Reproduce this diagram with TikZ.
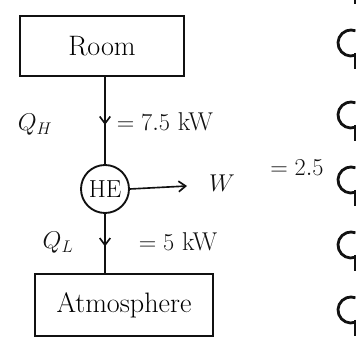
\documentclass[tikz,border=0pt]{standalone}
\usepackage{amsmath}
\usepackage{tikz}
\usetikzlibrary{arrows.meta,positioning,decorations.markings}
\definecolor{inkdark}{HTML}{111111}
\tikzset{
  heatbox/.style={draw=inkdark,line width=1.6pt,inner sep=2pt,font=\fontsize{24}{26}\selectfont},
  engine/.style={circle,draw=inkdark,line width=1.6pt,minimum size=1.44cm,inner sep=0pt,font=\fontsize{21}{23}\selectfont},
  heatflow/.style={draw=inkdark,line width=1.4pt,postaction={decorate},
    decoration={markings,mark=at position 0.55 with {\arrow{Straight Barb[length=6pt,width=9pt]}}}},
  workflow/.style={-{Straight Barb[length=6pt,width=9pt]},draw=inkdark,line width=1.4pt},
  qlabel/.style={font=\fontsize{22}{24}\selectfont,text=inkdark},
  ring/.style={draw=inkdark,line width=2.4pt}
}
\begin{document}
\begin{tikzpicture}[x=0.03cm,y=-0.03cm]
\clip (0,0) rectangle (357,346);
\node[heatbox,minimum width=4.92cm,minimum height=1.8cm] (room) at (102,46) {Room};
\node[engine] (he) at (105,189) {HE};
\node[heatbox,minimum width=5.34cm,minimum height=1.86cm] (atm) at (124,305) {Atmosphere};
\coordinate (wend) at (187,186);
\draw[heatflow] (room.south -| he.north) -- (he.north);
\draw[heatflow] (he.south) -- (he.south |- atm.north);
\draw[workflow] (he.east) -- (wend);
\node[qlabel] (qh) at (35,125) {$Q_H$};
\node[qlabel] (qhval) at (165,122) {$=7.5$ kW};
\node[qlabel] (ql) at (58,243) {$Q_L$};
\node[qlabel] (qlval) at (178,242) {$=5$ kW};
\node[qlabel] (w) at (222,183) {$W$};
\node[qlabel] (wval) at (297,168) {$=2.5$};
% notebook rings along the right edge
\foreach \y in {-22,43,115,180,245,310}{
  \draw[ring] (351,\y) ++(70:13) arc (70:290:13);
  \draw[ring] (355,\y+10) -- (355,\y+26);
}
\end{tikzpicture}
\end{document}
